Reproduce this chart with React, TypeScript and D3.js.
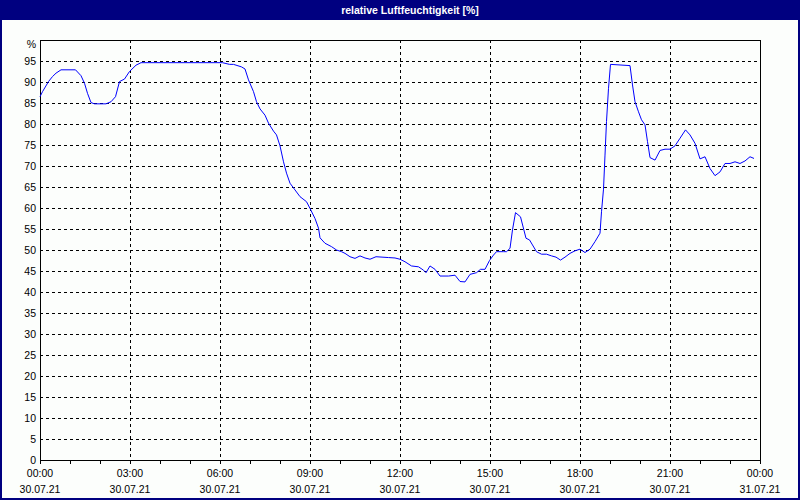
import React from 'react';
import * as d3 from 'd3';

// minutes since 30.07.21 00:00
const minutes = [
  0, 5, 17, 25, 32, 42, 71, 82, 89, 95, 102, 109, 132, 142, 151, 159, 169, 179, 192, 202,
  365, 379, 387, 403, 410, 417, 427, 433, 440, 450, 457, 467, 473, 480, 487, 493, 500, 510,
  520, 533, 540, 550, 557, 560, 570, 583, 593, 603, 610, 620, 630, 640, 650, 660, 672, 697,
  710, 720, 730, 743, 757, 767, 772, 780, 790, 800, 817, 830, 840, 850, 860, 873, 881, 890,
  899, 907, 913, 927, 933, 940, 945, 951, 961, 972, 979, 985, 993, 1003, 1013, 1023, 1032,
  1041, 1050, 1060, 1070, 1080, 1090, 1100, 1110, 1120, 1123, 1127, 1130, 1133, 1137, 1141,
  1180, 1185, 1190, 1197, 1203, 1210, 1215, 1220, 1230, 1240, 1250, 1260, 1270, 1280, 1291,
  1300, 1310, 1320, 1330, 1340, 1350, 1360, 1370, 1380, 1390, 1400, 1410, 1420, 1428,
];

const humidity = [
  86.5, 87.7, 90.1, 91.3, 92.1, 92.9, 92.9, 91.5, 89.7, 87.3, 85.1, 84.8, 84.8, 85.3, 86.5,
  90.1, 90.7, 92.5, 94.0, 94.6, 94.6, 94.2, 94.2, 93.6, 93.1, 90.5, 87.7, 85.3, 83.6, 82.1,
  80.2, 78.3, 77.4, 74.8, 71.0, 68.3, 65.9, 64.3, 62.7, 61.5, 59.9, 57.5, 55.2, 52.9, 51.6,
  50.8, 50.0, 49.6, 49.2, 48.4, 48.0, 48.6, 48.1, 47.8, 48.4, 48.2, 48.1, 47.8, 47.2, 46.2,
  46.0, 45.2, 44.6, 46.2, 45.4, 43.8, 43.8, 44.0, 42.5, 42.4, 44.2, 44.6, 45.4, 45.4, 47.5,
  48.8, 49.6, 49.6, 49.6, 50.4, 54.8, 58.9, 57.9, 52.8, 52.4, 51.2, 49.6, 49.0, 49.0, 48.6,
  48.3, 47.6, 48.3, 49.2, 49.8, 50.2, 49.4, 50.2, 52.0, 54.0, 59.1, 64.5, 72.6, 80.6, 88.5,
  94.2, 93.9, 89.3, 85.3, 82.9, 81.0, 79.8, 75.8, 72.0, 71.4, 73.7, 74.0, 74.0, 74.8, 76.6,
  78.6, 77.4, 75.4, 71.7, 72.2, 69.4, 67.7, 68.6, 70.6, 70.6, 71.0, 70.6, 71.2, 72.2, 71.8,
];

const yTicks = d3.range(0, 100, 5);
const xTickHours = d3.range(0, 25, 3);
const xTimeLabels = ['00:00', '03:00', '06:00', '09:00', '12:00', '15:00', '18:00', '21:00', '00:00'];
const xDateLabels = ['30.07.21', '30.07.21', '30.07.21', '30.07.21', '30.07.21', '30.07.21', '30.07.21', '30.07.21', '31.07.21'];

const W = 800;
const H = 500;
const left = 40;
const right = 760;
const top = 40;
const bottom = 460;
const font = "Tahoma, 'Liberation Sans', Arial, sans-serif";

const App: React.FC = () => {
  const x = d3.scaleLinear().domain([0, 24 * 60]).range([left, right]);
  const y = d3.scaleLinear().domain([0, 100]).range([bottom, top]);
  const line = d3
    .line<number>()
    .x((d, i) => x(minutes[i]))
    .y((d) => y(d));

  return (
    <div style={{ position: 'fixed', left: 0, top: 0 }}>
      <svg width={W} height={H} style={{ display: 'block' }}>
        <rect x={0} y={0} width={W} height={H} fill="#fcfefc" />
        <rect x={0} y={0} width={W} height={20} fill="#000080" />
        <rect x={1} y={1} width={W - 2} height={H - 2} fill="none" stroke="#000080" strokeWidth={2} />
        <text
          x={W / 2 + 10}
          y={14}
          textAnchor="middle"
          fill="#fff"
          fontFamily={font}
          fontWeight="bold"
          fontSize={10.5}
        >
          relative Luftfeuchtigkeit [%]
        </text>

        {/* horizontal grid */}
        {yTicks
          .filter((v) => v > 0)
          .map((v) => (
            <line
              key={'h' + v}
              x1={left}
              x2={right}
              y1={Math.round(y(v)) + 0.5}
              y2={Math.round(y(v)) + 0.5}
              stroke="#000"
              strokeDasharray="3,3"
              shapeRendering="crispEdges"
            />
          ))}
        {/* vertical grid */}
        {xTickHours
          .filter((h) => h > 0 && h < 24)
          .map((h) => (
            <line
              key={'v' + h}
              x1={x(h * 60) + 0.5}
              x2={x(h * 60) + 0.5}
              y1={top}
              y2={bottom}
              stroke="#000"
              strokeDasharray="3,3"
              shapeRendering="crispEdges"
            />
          ))}

        {/* hourly ticks */}
        {d3.range(0, 25).map((h) => (
          <line
            key={'t' + h}
            x1={x(h * 60) + 0.5}
            x2={x(h * 60) + 0.5}
            y1={bottom}
            y2={bottom + 4}
            stroke="#000"
            shapeRendering="crispEdges"
          />
        ))}

        <rect
          x={left + 0.5}
          y={top + 0.5}
          width={right - left}
          height={bottom - top}
          fill="none"
          stroke="#000"
          shapeRendering="crispEdges"
        />

        <path d={line(humidity) || ''} fill="none" stroke="#0000ff" strokeWidth={1} />

        {/* y labels */}
        {yTicks.map((v) => (
          <text key={'yl' + v} x={36} y={y(v) + 4} textAnchor="end" fontFamily={font} fontSize={10.5} fill="#000">
            {v}
          </text>
        ))}
        <text x={36} y={y(100) + 8} textAnchor="end" fontFamily={font} fontSize={10.5} fill="#000">
          %
        </text>

        {/* x labels */}
        {xTickHours.map((h, i) => (
          <g key={'xl' + h} fontFamily={font} fontSize={10.5} fill="#000" textAnchor="middle">
            <text x={x(h * 60)} y={477}>
              {xTimeLabels[i]}
            </text>
            <text x={x(h * 60)} y={493}>
              {xDateLabels[i]}
            </text>
          </g>
        ))}
      </svg>
    </div>
  );
};

export default App;
